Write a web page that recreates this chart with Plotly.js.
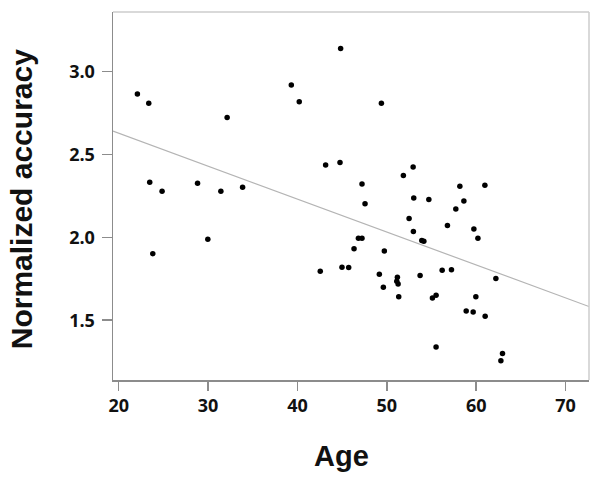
<!DOCTYPE html>
<html><head><meta charset="utf-8">
<script src="https://cdn.plot.ly/plotly-3.0.1.min.js"></script>
<style>html,body{margin:0;padding:0;background:#fff}#chart{width:601px;height:483px}</style>
</head><body><div id="chart"></div>
<script>
const age = [22.09,23.36,32.13,39.31,40.2,44.83,43.15,44.76,23.47,24.85,28.82,31.43,33.86,49.39,47.22,51.85,52.94,58.17,60.97,23.81,29.97,42.55,44.98,45.73,47.56,53.01,54.7,58.62,57.72,52.49,56.78,59.74,60.19,52.97,53.91,54.14,46.82,47.22,46.33,49.72,49.16,49.61,51.18,51.11,51.26,51.33,53.72,56.19,57.23,62.2,55.1,55.51,59.96,58.88,59.66,61.0,55.51,62.94,62.76];
const accuracy = [2.865,2.809,2.724,2.919,2.818,3.139,2.437,2.452,2.332,2.278,2.326,2.278,2.302,2.809,2.322,2.373,2.425,2.308,2.314,1.901,1.989,1.795,1.820,1.818,2.203,2.237,2.229,2.219,2.171,2.114,2.072,2.050,1.995,2.036,1.981,1.977,1.995,1.995,1.931,1.917,1.777,1.699,1.759,1.735,1.719,1.642,1.769,1.801,1.804,1.751,1.634,1.650,1.642,1.556,1.550,1.523,1.338,1.299,1.255];
const fitIntercept = 3.026;
const fitSlope = -0.01988;
const xTicks = [20,30,40,50,60,70];
const yTicks = [1.5,2.0,2.5,3.0];
const xRange = [19.36, 72.62];
const yRange = [1.139, 3.36];
const xTitle = 'Age';
const yTitle = 'Normalized accuracy';

const fitX = xRange.slice();
const fitY = fitX.map(x => fitIntercept + fitSlope * x);

const tickFont = {family: 'Open Sans, DejaVu Sans, sans-serif', size: 18, color: '#111', weight: 'bold'};
const titleFont = {family: 'Liberation Sans, Arial, sans-serif', size: 29, color: '#111', weight: 'bold'};

const data = [
  {x: fitX, y: fitY, mode: 'lines', line: {color: '#b4b4b4', width: 1.2}, hoverinfo: 'skip', showlegend: false},
  {x: age, y: accuracy, mode: 'markers', marker: {color: '#000', size: 5.5}, showlegend: false}
];
const layout = {
  width: 601, height: 483,
  margin: {l: 113, r: 12, t: 12, b: 103},
  paper_bgcolor: '#fff', plot_bgcolor: '#fff',
  xaxis: {range: xRange, tickvals: xTicks, ticktext: xTicks.map(String), showgrid: false, zeroline: false,
    showline: true, linecolor: '#8c8c8c', linewidth: 1.5, ticks: 'outside', ticklen: 9, tickwidth: 1.5, tickcolor: '#8c8c8c',
    tickfont: tickFont},
  yaxis: {range: yRange, tickvals: yTicks, ticktext: yTicks.map(v => v.toFixed(1)), showgrid: false, zeroline: false,
    showline: true, linecolor: '#8c8c8c', linewidth: 1.5, ticks: 'outside', ticklen: 10, tickwidth: 1.5, tickcolor: '#8c8c8c',
    tickfont: tickFont, ticklabelstandoff: 3},
  annotations: [
    {text: xTitle, xref: 'paper', yref: 'paper', x: 0.48, y: -0.2065, xanchor: 'center', yanchor: 'middle', showarrow: false,
     font: titleFont},
    {text: yTitle, xref: 'paper', yref: 'paper', x: -0.192, y: 0.49, xanchor: 'center', yanchor: 'middle', showarrow: false,
     textangle: -90, font: Object.assign({}, titleFont, {size: 30})}
  ],
  shapes: [
    {type: 'line', xref: 'paper', yref: 'paper', x0: 0, x1: 1, y0: 1, y1: 1, line: {color: '#cccccc', width: 1.5}},
    {type: 'line', xref: 'paper', yref: 'paper', x0: 1, x1: 1, y0: 0, y1: 1, line: {color: '#cccccc', width: 1.5}}
  ]
};
Plotly.newPlot('chart', data, layout, {displayModeBar: false, staticPlot: true});
</script></body></html>
